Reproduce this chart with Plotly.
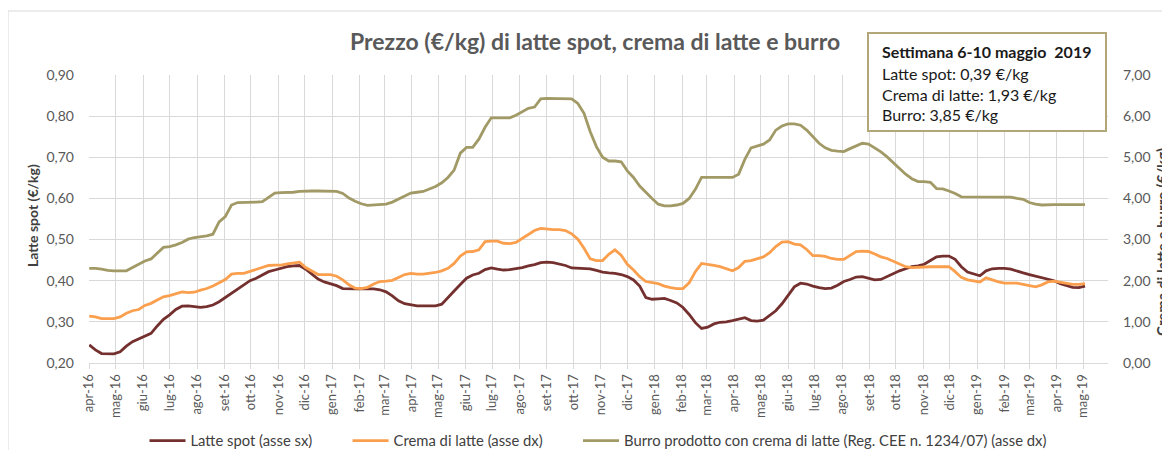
import pandas as pd
import plotly.graph_objects as go

# ---------------- data (weekly, from week of 4 Apr 2016 to week of 6 May 2019) ----------------
START_DATE = "2016-04-04"

latte_spot = [
    0.244, 0.232, 0.223, 0.222, 0.222, 0.227, 0.241, 0.252, 0.259, 0.264,
    0.272, 0.290, 0.306, 0.317, 0.330, 0.338, 0.339, 0.337, 0.335, 0.337,
    0.341, 0.349, 0.359, 0.371, 0.381, 0.390, 0.400, 0.406, 0.415, 0.422,
    0.426, 0.430, 0.434, 0.436, 0.437, 0.428, 0.416, 0.404, 0.397, 0.392,
    0.388, 0.381, 0.380, 0.380, 0.380, 0.380, 0.380, 0.378, 0.373, 0.363,
    0.351, 0.344, 0.341, 0.339, 0.339, 0.339, 0.339, 0.343, 0.360, 0.375,
    0.391, 0.406, 0.414, 0.418, 0.427, 0.431, 0.428, 0.426, 0.427, 0.429,
    0.432, 0.436, 0.439, 0.444, 0.445, 0.444, 0.441, 0.437, 0.431, 0.430,
    0.430, 0.429, 0.425, 0.421, 0.419, 0.418, 0.415, 0.410, 0.402, 0.387,
    0.359, 0.355, 0.356, 0.357, 0.352, 0.346, 0.335, 0.318, 0.298, 0.284,
    0.287, 0.295, 0.299, 0.300, 0.303, 0.306, 0.310, 0.303, 0.302, 0.304,
    0.315, 0.327, 0.344, 0.364, 0.385, 0.394, 0.392, 0.387, 0.383, 0.381,
    0.382, 0.389, 0.398, 0.403, 0.409, 0.410, 0.406, 0.402, 0.403, 0.410,
    0.418, 0.424, 0.429, 0.434, 0.436, 0.440, 0.449, 0.458, 0.460, 0.460,
    0.452, 0.434, 0.421, 0.416, 0.412, 0.424, 0.429, 0.430, 0.430, 0.428,
    0.423, 0.419, 0.415, 0.411, 0.407, 0.403, 0.400, 0.393, 0.388, 0.384,
    0.383, 0.387,
]

crema_di_latte = [
    1.14, 1.12, 1.08, 1.08, 1.08, 1.12, 1.21, 1.27, 1.30, 1.40,
    1.45, 1.53, 1.61, 1.64, 1.68, 1.73, 1.71, 1.72, 1.77, 1.81,
    1.87, 1.95, 2.03, 2.16, 2.18, 2.18, 2.23, 2.27, 2.32, 2.37,
    2.38, 2.38, 2.41, 2.43, 2.45, 2.32, 2.23, 2.15, 2.15, 2.15,
    2.11, 2.02, 1.90, 1.82, 1.81, 1.84, 1.92, 1.98, 1.99, 2.01,
    2.08, 2.15, 2.18, 2.16, 2.16, 2.18, 2.20, 2.24, 2.30, 2.42,
    2.60, 2.70, 2.71, 2.75, 2.95, 2.96, 2.96, 2.91, 2.90, 2.93,
    3.03, 3.13, 3.22, 3.27, 3.25, 3.24, 3.24, 3.22, 3.14, 3.01,
    2.79, 2.53, 2.49, 2.49, 2.64, 2.75, 2.62, 2.40, 2.26, 2.10,
    1.98, 1.95, 1.93, 1.87, 1.83, 1.81, 1.81, 1.95, 2.22, 2.42,
    2.40, 2.37, 2.34, 2.28, 2.24, 2.32, 2.47, 2.49, 2.54, 2.58,
    2.68, 2.83, 2.94, 2.95, 2.89, 2.87, 2.76, 2.61, 2.61, 2.59,
    2.54, 2.52, 2.52, 2.61, 2.71, 2.72, 2.71, 2.65, 2.58, 2.54,
    2.47, 2.40, 2.34, 2.32, 2.33, 2.34, 2.34, 2.34, 2.34, 2.34,
    2.22, 2.08, 2.02, 1.99, 1.97, 2.07, 2.02, 1.97, 1.94, 1.94,
    1.94, 1.91, 1.88, 1.85, 1.90, 1.97, 1.99, 1.96, 1.93, 1.91,
    1.91, 1.93,
]

burro = [
    2.30, 2.30, 2.28, 2.25, 2.24, 2.24, 2.24, 2.32, 2.41, 2.48,
    2.53, 2.68, 2.81, 2.83, 2.87, 2.93, 3.01, 3.05, 3.07, 3.09,
    3.13, 3.43, 3.56, 3.84, 3.90, 3.90, 3.90, 3.91, 3.92, 4.03,
    4.13, 4.14, 4.14, 4.15, 4.17, 4.18, 4.18, 4.18, 4.18, 4.18,
    4.17, 4.12, 4.01, 3.93, 3.87, 3.83, 3.84, 3.86, 3.86, 3.91,
    3.98, 4.06, 4.13, 4.15, 4.17, 4.23, 4.29, 4.38, 4.51, 4.69,
    5.10, 5.24, 5.24, 5.44, 5.73, 5.96, 5.96, 5.96, 5.96, 6.02,
    6.11, 6.19, 6.22, 6.42, 6.43, 6.43, 6.43, 6.43, 6.42, 6.31,
    6.07, 5.62, 5.26, 5.00, 4.91, 4.91, 4.89, 4.67, 4.51, 4.30,
    4.14, 4.00, 3.86, 3.82, 3.82, 3.84, 3.88, 4.00, 4.22, 4.51,
    4.51, 4.51, 4.51, 4.51, 4.51, 4.59, 4.95, 5.23, 5.27, 5.32,
    5.42, 5.66, 5.76, 5.81, 5.81, 5.78, 5.66, 5.50, 5.34, 5.23,
    5.17, 5.15, 5.14, 5.21, 5.28, 5.34, 5.32, 5.23, 5.13, 5.01,
    4.87, 4.72, 4.59, 4.48, 4.41, 4.41, 4.39, 4.24, 4.23, 4.18,
    4.12, 4.04, 4.04, 4.04, 4.04, 4.04, 4.04, 4.04, 4.04, 4.03,
    4.00, 3.98, 3.90, 3.86, 3.84, 3.85, 3.85, 3.85, 3.85, 3.85,
    3.85, 3.85,
]

series_names = [
    "Latte spot (asse sx)",
    "Crema di latte (asse dx)",
    "Burro prodotto con crema di latte (Reg. CEE n. 1234/07) (asse dx)",
]

month_abbr = ["gen", "feb", "mar", "apr", "mag", "giu", "lug", "ago", "set", "ott", "nov", "dic"]
tick_dates = pd.date_range("2016-04-01", "2019-05-01", freq="MS") + pd.Timedelta(days=3)
tick_labels = [f"{month_abbr[d.month - 1]}-{str(d.year)[2:]}" for d in tick_dates]

box_lines = [
    "<b>Settimana 6-10 maggio  2019</b>",
    "Latte spot: 0,39 €/kg",
    "Crema di latte: 1,93 €/kg",
    "Burro: 3,85 €/kg",
]

dates = pd.date_range(START_DATE, periods=len(latte_spot), freq="7D")

# ---------------- layout helpers ----------------
# The page body adds an 8px offset; the figure is sized/positioned to compensate.
OFF = 8
W, H = 1170 - OFF, 450 - OFF
PL, PR, PT, PB = 89 - OFF, 1108 - OFF, 75 - OFF, 363 - OFF


def px(x_screen):
    return (x_screen - OFF - PL) / (PR - PL)


def py(y_screen):
    return (PB - (y_screen - OFF)) / (PB - PT)


FONT = "Lato, 'Open Sans', sans-serif"
GRID = "#d9d9d9"
PAD = "\u00a0" * 8  # extra spacing between legend entries

fig = go.Figure()
fig.add_trace(go.Scatter(x=dates, y=latte_spot, name=series_names[0] + PAD, mode="lines",
                         line=dict(color="#74302e", width=2.8), yaxis="y"))
fig.add_trace(go.Scatter(x=dates, y=crema_di_latte, name=series_names[1] + PAD, mode="lines",
                         line=dict(color="#fa9f4e", width=2.8), yaxis="y2"))
fig.add_trace(go.Scatter(x=dates, y=burro, name=series_names[2], mode="lines",
                         line=dict(color="#a29a66", width=2.8), yaxis="y2"))

fig.update_layout(
    width=W, height=H,
    margin=dict(l=PL, r=W - PR, t=PT, b=H - PB, autoexpand=False),
    paper_bgcolor="white", plot_bgcolor="white",
    separators=",.",
    font=dict(family=FONT, color="#595959"),
    showlegend=True,
    legend=dict(orientation="h", x=px(598), xanchor="center", xref="paper",
                y=1 - (441 - OFF) / H, yanchor="middle", yref="container",
                font=dict(size=14.8, color="#404040"), itemwidth=36, bgcolor="rgba(0,0,0,0)"),
    xaxis=dict(
        type="date",
        range=["2016-04-03 18:00", "2019-06-01"],
        tickmode="array", tickvals=tick_dates, ticktext=tick_labels,
        tickangle=-90, tickfont=dict(size=13, color="#595959"),
        showgrid=True, gridcolor=GRID, gridwidth=1,
        showline=True, linecolor=GRID, linewidth=1,
        ticks="outside", ticklen=5, tickcolor=GRID,
        zeroline=False, automargin=False,
    ),
    yaxis=dict(
        range=[0.2, 0.9], dtick=0.1, tick0=0.2, tickformat=".2f",
        tickfont=dict(size=14, color="#595959"),
        showgrid=True, gridcolor=GRID, gridwidth=1, zeroline=False,
        ticks="", ticklabelstandoff=14, automargin=False,
    ),
    yaxis2=dict(
        range=[0, 7], dtick=1, tick0=0, tickformat=".2f", overlaying="y", side="right",
        tickfont=dict(size=14, color="#595959"),
        showgrid=False, zeroline=False, ticks="", ticklabelstandoff=14, automargin=False,
    ),
)

shapes = [
    # outer chart border (top / left visible)
    dict(type="rect", xref="paper", yref="paper", x0=px(8), x1=px(1190), y0=py(480), y1=py(11),
         line=dict(color=GRID, width=1), fillcolor="rgba(0,0,0,0)", layer="below"),
    # info box
    dict(type="rect", xref="paper", yref="paper", x0=px(868), x1=px(1106), y0=py(131), y1=py(33),
         line=dict(color="#b1a778", width=2), fillcolor="white", layer="above"),
]
fig.update_layout(shapes=shapes)

annotations = [
    dict(text="<b>Prezzo (€/kg) di latte spot, crema di latte e burro</b>", xref="paper", yref="paper",
         x=px(595), y=py(41), xanchor="center", yanchor="middle", showarrow=False,
         font=dict(size=23, color="#595959", family=FONT)),
]
for line, yc in zip(box_lines, [52, 73, 94, 115]):
    annotations.append(dict(text=line, xref="paper", yref="paper", x=px(880), y=py(yc),
                            xanchor="left", yanchor="middle", showarrow=False,
                            font=dict(size=16, color="#1a1a1a", family=FONT)))
annotations.append(dict(text="<b>Latte spot (€/kg)</b>", xref="paper", yref="paper",
                        x=px(32), y=py(216), xanchor="center", yanchor="middle",
                        textangle=-90, showarrow=False,
                        font=dict(size=14, color="#404040", family=FONT)))
annotations.append(dict(text="<b>Crema di latte e burro (€/kg)</b>", xref="paper", yref="paper",
                        x=px(1162), y=py(242), xanchor="center", yanchor="middle",
                        textangle=-90, showarrow=False,
                        font=dict(size=15, color="#404040", family=FONT)))
fig.update_layout(annotations=annotations)

fig.write_html("out.html")
